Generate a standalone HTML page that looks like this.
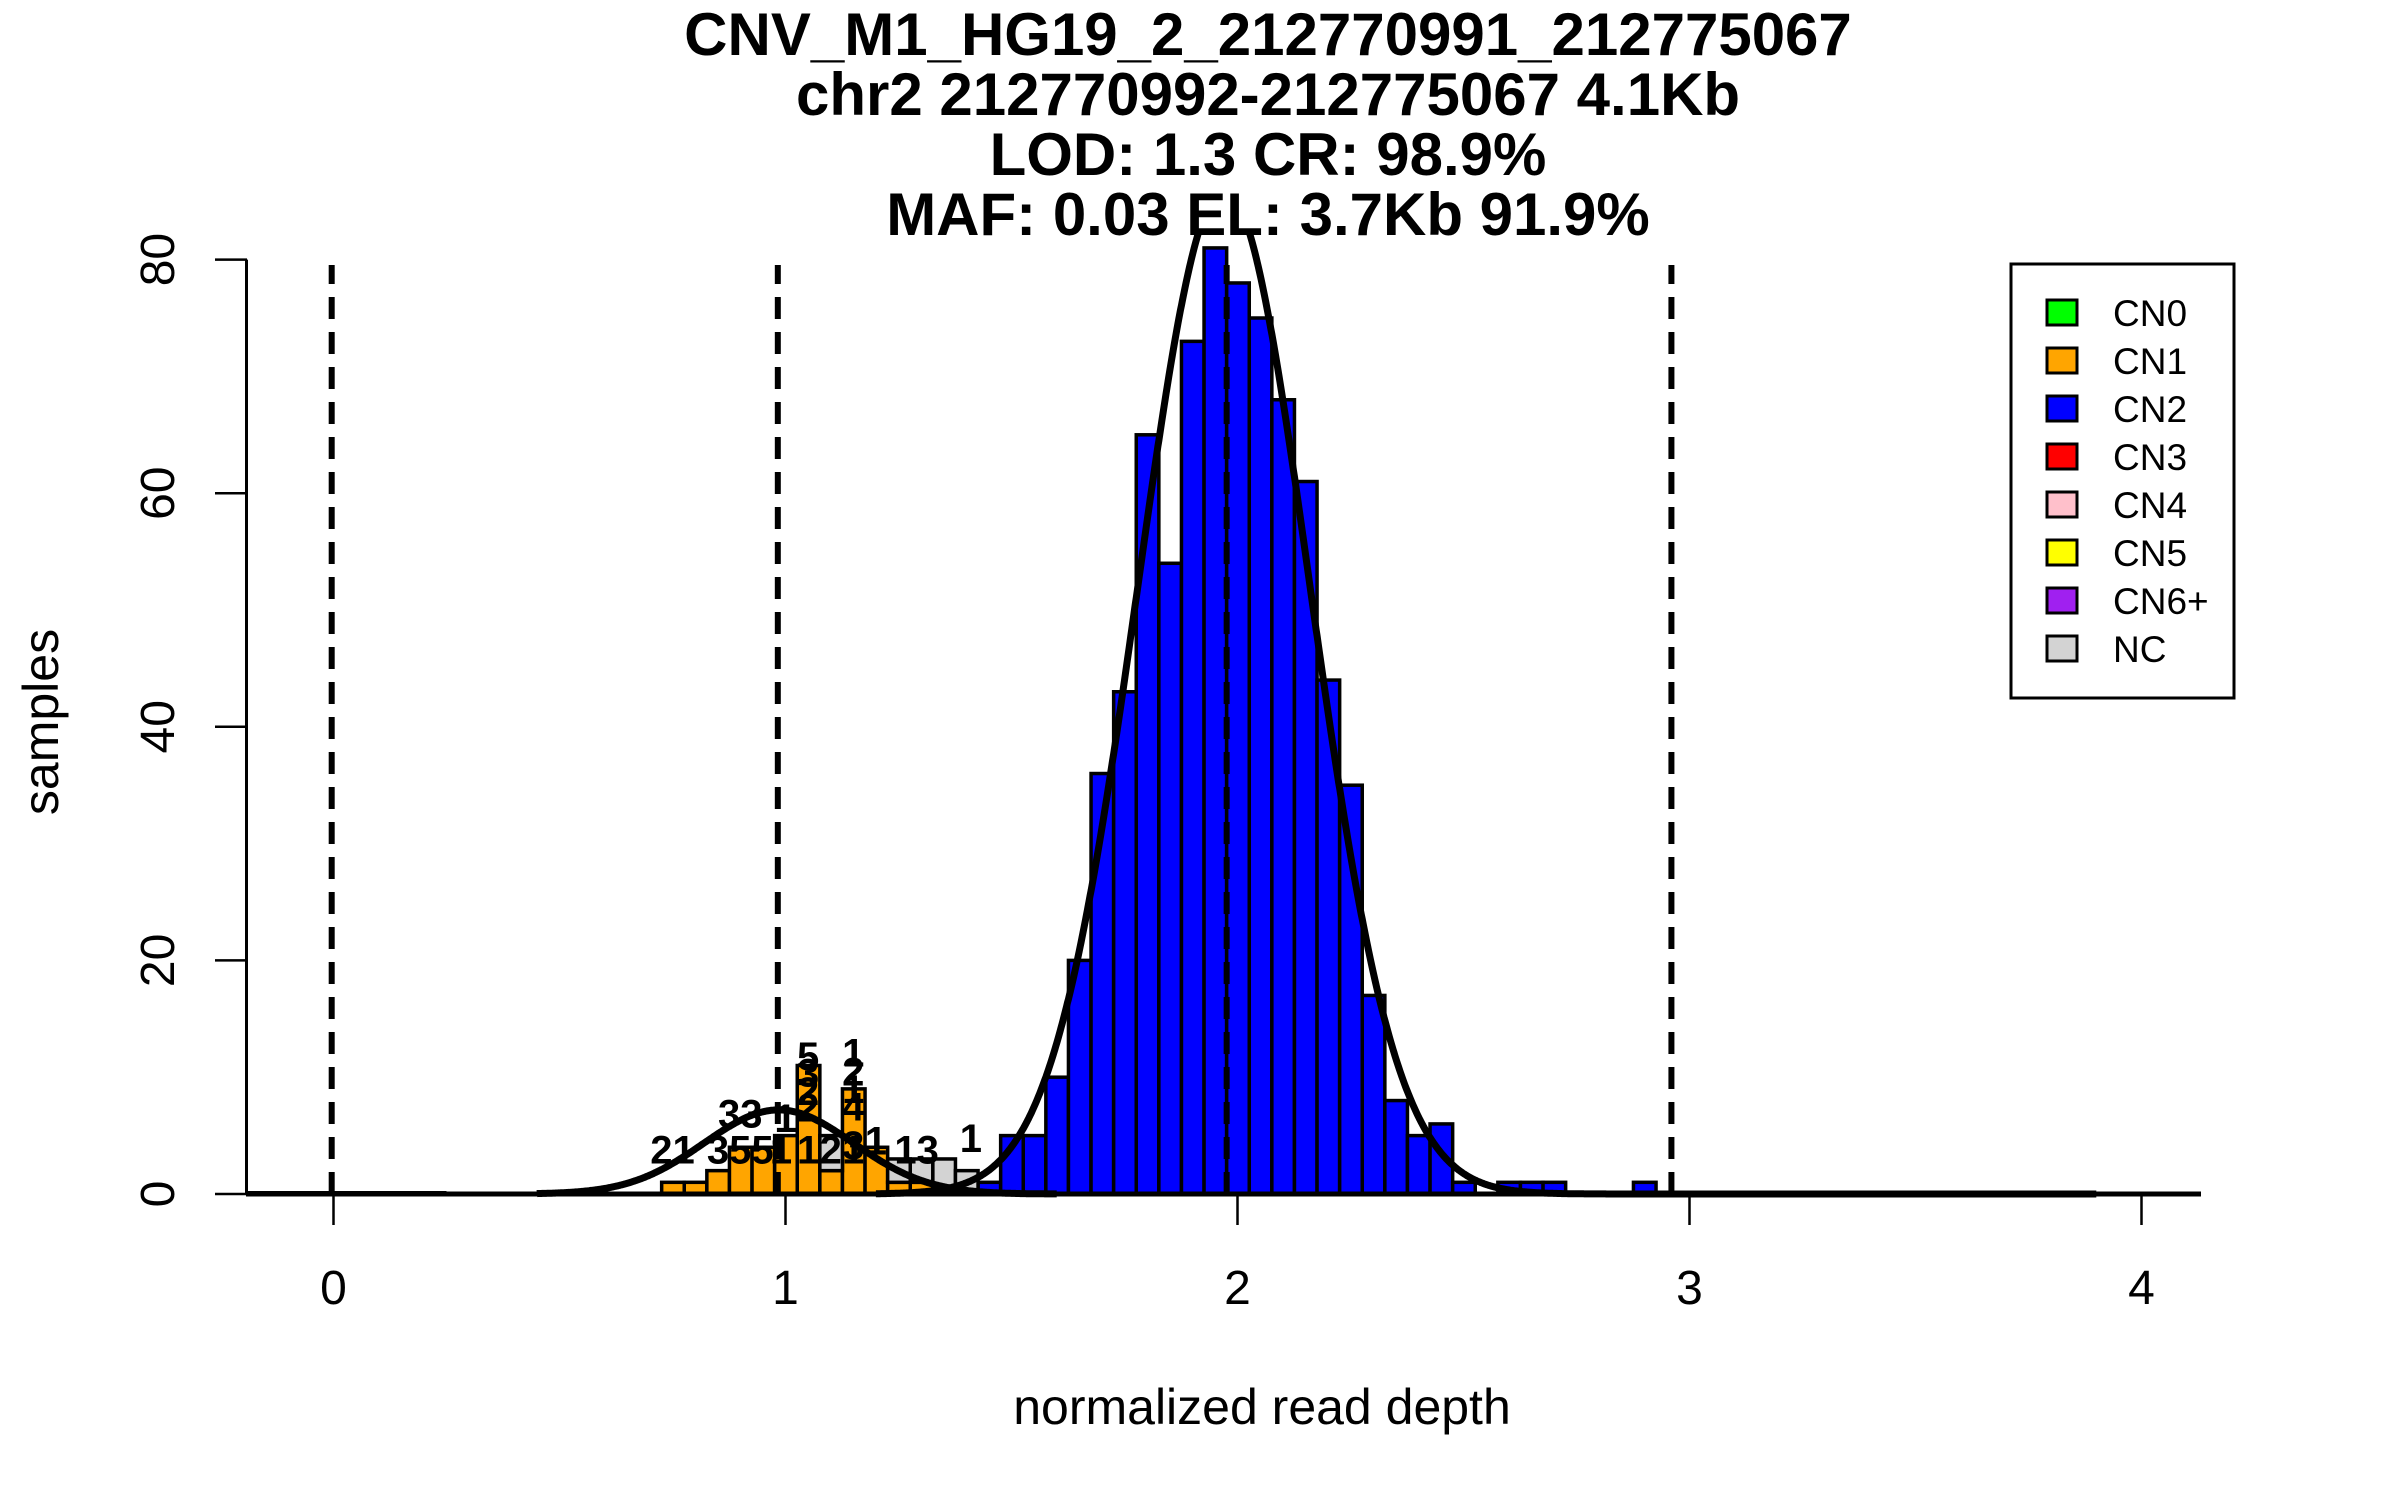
<!DOCTYPE html>
<html><head><meta charset="utf-8"><style>
html,body{margin:0;padding:0;background:#fff;}
svg{display:block;font-family:"Liberation Sans",Arial,sans-serif;}
</style></head><body>
<svg id="chart" width="2400" height="1500" viewBox="0 0 2400 1500" xmlns="http://www.w3.org/2000/svg">
<g font-weight="bold" font-size="60" text-anchor="middle">
<text x="1268" y="55">CNV_M1_HG19_2_212770991_212775067</text>
<text x="1268" y="115">chr2 212770992-212775067 4.1Kb</text>
<text x="1268" y="175">LOD: 1.3 CR: 98.9%</text>
<text x="1268" y="235">MAF: 0.03 EL: 3.7Kb 91.9%</text>
</g>
<g id="bars"></g>
<g id="labels" font-weight="bold" font-size="40" text-anchor="middle"></g>
<g id="curves"></g>
<g id="dashes"></g>
<g id="axes"></g>
<g>
<rect x="2011" y="264" width="223" height="434" fill="#fff" stroke="#000" stroke-width="3"/>
<g id="legendItems" font-size="37"></g>
</g>
</svg>
<script>
// ---- data ----
const blueBins   = [1.426,1.476,1.526,1.576,1.626,1.676,1.726,1.776,1.826,1.876,1.926,1.976,2.026,2.076,2.126,2.176,2.226,2.276,2.326,2.376,2.426,2.476,2.576,2.626,2.676,2.876];
const blueCounts = [1,5,5,10,20,36,43,65,54,73,81,78,75,68,61,44,35,17,8,5,6,1,1,1,1,1];
const orangeBins   = [0.726,0.776,0.826,0.876,0.926,0.976,1.026,1.076,1.126,1.176,1.226,1.276];
const orangeCounts = [1,1,2,4,4,5,11,2,9,4,1,1];
const ncBins   = [1.076,1.226,1.276,1.326,1.376];
const ncCounts = [3,2,2,3,2];
const binWidth = 0.05;
const xTicks = [0,1,2,3,4];
const yTicks = [0,20,40,60,80];
const guideLines = [-0.004,0.983,1.976,2.96];
const cn1Fit = {mean:0.985, sd:0.165, peak:7.2, from:0.45, to:1.6};
const cn2Fit = {mean:1.97, sd:0.19, peak:86, from:1.2, to:3.9};
const legendNames  = ["CN0","CN1","CN2","CN3","CN4","CN5","CN6+","NC"];
const legendColors = ["#00ff00","#ffa500","#0000ff","#ff0000","#ffc0cb","#ffff00","#a020f0","#d3d3d3"];
// printed labels: [value, count-position, text]
const labelVals = [0.75,0.9,0.9,0.99,1.0,1.05,1.05,1.05,1.05,1.05,1.1,1.15,1.15,1.15,1.15,1.15,1.2,1.15,1.29,1.41];
const labelPos  = [2.6,2.6,5.7,2.6,5.3,2.6,6.2,7.6,9.2,10.6,2.6,10.9,9.3,7.8,6.3,3.0,3.4,2.6,2.6,3.6];
const labelText = ["21","355","33","1","1","1","2","2","3","5","2","1","2","1","4","3","1","1","13","1"];

const NS="http://www.w3.org/2000/svg";
const X0=333.5, XU=452, Y0=1194, YU=11.68, CMAX=82.5;
const xs=v=>X0+XU*v, ys=c=>Y0-YU*c;
function mk(tag,attrs,parent){const e=document.createElementNS(NS,tag);for(const k in attrs)e.setAttribute(k,attrs[k]);parent.appendChild(e);return e;}

const bars=document.getElementById('bars');
function drawBar(v,base,cnt,color,name){
  const r=mk('rect',{x:xs(v),y:ys(base+cnt),width:XU*binWidth,height:YU*cnt,fill:color,stroke:'#000','stroke-width':3.5},bars);
  
  
}
blueBins.forEach((v,i)=>drawBar(v,0,blueCounts[i],'#0000ff','bar-cn2'));
orangeBins.forEach((v,i)=>drawBar(v,0,orangeCounts[i],'#ffa500','bar-cn1'));
ncBins.forEach((v,i)=>{const j=orangeBins.indexOf(v);const b=j>=0?orangeCounts[j]:0;drawBar(v,b,ncCounts[i],'#d3d3d3','bar-nc');});

const labels=document.getElementById('labels');
labelVals.forEach((v,i)=>{
  const t=mk('text',{x:xs(v),y:ys(labelPos[i])},labels);
  t.textContent=labelText[i];
  
  
});

const curves=document.getElementById('curves');
function drawFit(f,name){
  let d='', pen=false;
  for(let v=f.from;v<=f.to+1e-9;v+=0.002){
    const c=f.peak*Math.exp(-Math.pow(v-f.mean,2)/(2*f.sd*f.sd));
    if(c>CMAX){pen=false;continue;}
    d+=(pen?'L':'M')+xs(v).toFixed(1)+','+ys(c).toFixed(1);pen=true;
  }
  const p=mk('path',{d:d,fill:'none',stroke:'#000','stroke-width':7,'stroke-linejoin':'round'},curves);
  
  
}
drawFit(cn1Fit,'cn1-fit-curve');
drawFit(cn2Fit,'cn2-fit-curve');
const flat=mk('line',{x1:xs(-0.19),x2:xs(0.25),y1:Y0-1,y2:Y0-1,stroke:'#000','stroke-width':4},curves);



const dashes=document.getElementById('dashes');
guideLines.forEach(v=>{
  const l=mk('line',{x1:xs(v),x2:xs(v),y1:Y0,y2:265,stroke:'#000','stroke-width':6,'stroke-dasharray':'22 13'},dashes);
  
  
});

const axes=document.getElementById('axes');
const xa=mk('line',{x1:246,x2:2201,y1:Y0,y2:Y0,stroke:'#000','stroke-width':5},axes);


const ya=mk('line',{x1:246.5,x2:246.5,y1:ys(80),y2:Y0,stroke:'#000','stroke-width':3},axes);


xTicks.forEach(v=>{
  const t=mk('line',{x1:xs(v),x2:xs(v),y1:Y0,y2:Y0+31,stroke:'#000','stroke-width':2.5},axes);
  
  
  const tx=mk('text',{x:xs(v),y:1304,'font-size':48,'text-anchor':'middle'},axes);
  tx.textContent=v;
  
  
});
yTicks.forEach(v=>{
  const t=mk('line',{x1:215,x2:247,y1:ys(v),y2:ys(v),stroke:'#000','stroke-width':2.5},axes);
  
  
  const tx=mk('text',{x:0,y:0,'font-size':48,'text-anchor':'middle',transform:'translate(174,'+ys(v)+') rotate(-90)'},axes);
  tx.textContent=v;
  
  
});
const xl=mk('text',{x:1262,y:1424,'font-size':50,'text-anchor':'middle'},axes);
xl.textContent='normalized read depth';


const yl=mk('text',{x:0,y:0,'font-size':50,'text-anchor':'middle',transform:'translate(58,722) rotate(-90)'},axes);
yl.textContent='samples';



const li=document.getElementById('legendItems');
legendNames.forEach((n,i)=>{
  const cy=313+48*i;
  const r=mk('rect',{x:2047,y:cy-13,width:30,height:25,fill:legendColors[i],stroke:'#000','stroke-width':3},li);
  
  
  const t=mk('text',{x:2113,y:cy+13},li);
  t.textContent=n;
  
  
});
</script>
</body></html>
